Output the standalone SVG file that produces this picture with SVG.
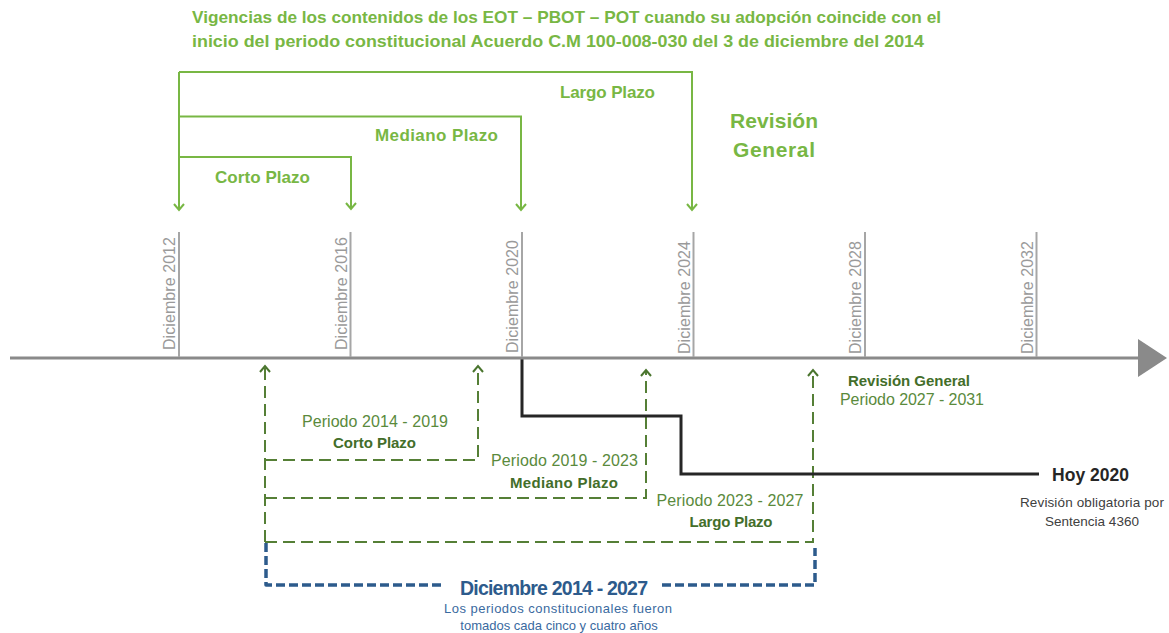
<svg xmlns="http://www.w3.org/2000/svg" width="1169" height="633" viewBox="0 0 1169 633">
<style>
text{font-family:"Liberation Sans",Arial,sans-serif}
.lg{fill:#78b744;font-weight:bold}
.bk{fill:none;stroke:#78b744;stroke-width:2}
.tick{stroke:#a6a6a6;stroke-width:2}
.tl{fill:#9a9a9a;font-size:16px}
.dg{fill:none;stroke:#557f36;stroke-width:2;stroke-dasharray:12 6}
.gt{fill:#5a8a3c;font-size:16px}
.gb{fill:#436e2a;font-size:15px;font-weight:bold}
.bl{fill:none;stroke:#2d5b8c;stroke-width:3.5;stroke-dasharray:9 4;stroke-linejoin:round}
</style>
<defs>
<marker id="ag" markerUnits="userSpaceOnUse" markerWidth="12" markerHeight="12" refX="7" refY="6" orient="auto" viewBox="0 0 12 12">
<path d="M1,1 L7,6 L1,11" fill="none" stroke="#78b744" stroke-width="2"/>
</marker>
<marker id="ad" markerUnits="userSpaceOnUse" markerWidth="12" markerHeight="12" refX="7" refY="6" orient="auto" viewBox="0 0 12 12">
<path d="M1,1 L7,6 L1,11" fill="none" stroke="#4a752e" stroke-width="2"/>
</marker>
</defs>
<rect width="1169" height="633" fill="#ffffff"/>
<g id="title" class="lg" font-size="17">
<text x="192" y="23" textLength="749" lengthAdjust="spacingAndGlyphs">Vigencias de los contenidos de los EOT – PBOT – POT cuando su adopción coincide con el</text>
<text x="192" y="47" textLength="732" lengthAdjust="spacingAndGlyphs">inicio del periodo constitucional Acuerdo C.M 100-008-030 del 3 de diciembre del 2014</text>
</g>
<g id="connectors">
<path class="bk" d="M179,72 L692,72 L692,210" marker-end="url(#ag)"/>
<path class="bk" d="M179,72 L179,210" marker-end="url(#ag)"/>
<path class="bk" d="M179,116.5 L521,116.5 L521,210" marker-end="url(#ag)"/>
<path class="bk" d="M179,157 L351,157 L351,209" marker-end="url(#ag)"/>
<path class="dg" d="M265,542 L265,366" marker-end="url(#ad)"/>
<path class="dg" d="M265,460 L478,460 L478,366" marker-end="url(#ad)"/>
<path class="dg" d="M265,498 L646,498 L646,370" marker-end="url(#ad)"/>
<path class="dg" d="M265,542 L813,542 L813,370" marker-end="url(#ad)"/>
<path class="bl" d="M266,543 L266,585 L443,585"/>
<path class="bl" d="M662,585 L815,585 L815,548"/>
<polyline points="522,358 522,416 681,416 681,474 1039,474" fill="none" stroke="#262626" stroke-width="3"/>
</g>
<g id="plazo-labels" class="lg" font-size="17">
<text x="607.5" y="98" text-anchor="middle" textLength="95">Largo Plazo</text>
<text x="436.5" y="141" text-anchor="middle" textLength="123">Mediano Plazo</text>
<text x="262.5" y="183" text-anchor="middle" textLength="95">Corto Plazo</text>
</g>
<g id="revision-general-top" class="lg" font-size="21" text-anchor="middle">
<text x="774" y="128" textLength="88">Revisión</text>
<text x="774" y="157" textLength="82">General</text>
</g>
<g id="timeline">
<line x1="10" y1="358" x2="1140" y2="358" stroke="#8a8a8a" stroke-width="3"/>
<polygon points="1138,339 1167,358 1138,377" fill="#8a8a8a"/>
<line class="tick" x1="179" y1="232" x2="179" y2="357"/>
<line class="tick" x1="350.5" y1="232" x2="350.5" y2="357"/>
<line class="tick" x1="522" y1="232" x2="522" y2="357"/>
<line class="tick" x1="693.5" y1="232" x2="693.5" y2="357"/>
<line class="tick" x1="865" y1="232" x2="865" y2="357"/>
<line class="tick" x1="1036.5" y1="232" x2="1036.5" y2="357"/>
<text class="tl" transform="translate(175,350) rotate(-90)" textLength="113">Diciembre 2012</text>
<text class="tl" transform="translate(346.5,350) rotate(-90)" textLength="113">Diciembre 2016</text>
<text class="tl" transform="translate(518,353) rotate(-90)" textLength="113">Diciembre 2020</text>
<text class="tl" transform="translate(689.5,354) rotate(-90)" textLength="113">Diciembre 2024</text>
<text class="tl" transform="translate(861,354) rotate(-90)" textLength="113">Diciembre 2028</text>
<text class="tl" transform="translate(1032.5,354) rotate(-90)" textLength="113">Diciembre 2032</text>
</g>
<g id="corto" text-anchor="middle">
<text class="gt" x="375" y="427" textLength="146">Periodo 2014 - 2019</text>
<text class="gb" x="374.5" y="448" textLength="83">Corto Plazo</text>
</g>
<g id="mediano" text-anchor="middle">
<text class="gt" x="564.5" y="466" textLength="147">Periodo 2019 - 2023</text>
<text class="gb" x="564" y="488" textLength="108">Mediano Plazo</text>
</g>
<g id="largo" text-anchor="middle">
<text class="gt" x="730" y="506" textLength="147">Periodo 2023 - 2027</text>
<text class="gb" x="731" y="527" textLength="83">Largo Plazo</text>
</g>
<g id="revision-general" text-anchor="middle">
<text class="gb" x="909" y="386" textLength="122">Revisión General</text>
<text class="gt" x="912" y="405" textLength="144">Periodo 2027 - 2031</text>
</g>
<g id="hoy" text-anchor="middle">
<text x="1090.5" y="481" font-size="17.5" font-weight="bold" fill="#262626" textLength="77">Hoy 2020</text>
<text x="1092" y="507" font-size="13.5" fill="#404040" textLength="144">Revisión obligatoria por</text>
<text x="1092" y="526" font-size="13.5" fill="#404040">Sentencia 4360</text>
</g>
<g id="diciembre-2014-2027" text-anchor="middle">
<text x="554" y="595" font-size="19.5" font-weight="bold" fill="#2d5b8c" textLength="188">Diciembre 2014 - 2027</text>
<text x="558" y="613" font-size="13" fill="#3a6aa0" textLength="228">Los periodos constitucionales fueron</text>
<text x="559" y="630" font-size="13" fill="#3a6aa0">tomados cada cinco y cuatro años</text>
</g>
</svg>
